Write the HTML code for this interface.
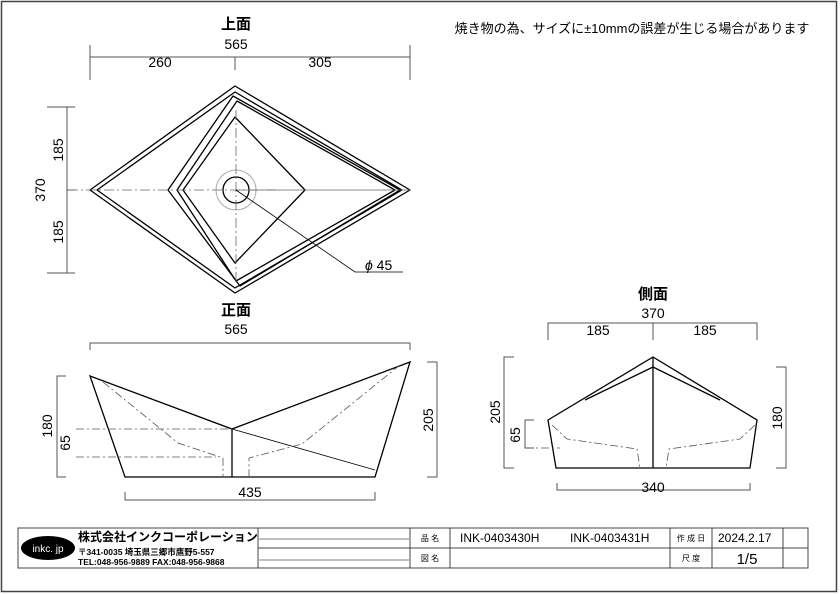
<!DOCTYPE html>
<html><head><meta charset="utf-8"><style>
html,body{margin:0;padding:0;background:#fff}
svg{display:block}
text{font-family:"Liberation Sans","Noto Sans CJK JP",sans-serif;fill:#000}
</style></head><body>
<svg width="840" height="594" viewBox="0 0 840 594" xmlns="http://www.w3.org/2000/svg">
<rect x="0" y="0" width="840" height="594" fill="#fff"/>
<rect x="1.5" y="1.5" width="835" height="590" fill="none" stroke="#444" stroke-width="1.5"/>
<text x="632" y="33" font-size="13" text-anchor="middle">焼き物の為、サイズに±10mmの誤差が生じる場合があります</text>

<!-- TOP VIEW -->
<text x="236" y="29" font-size="15" font-weight="bold" text-anchor="middle">上面</text>
<text x="236" y="49" font-size="14" text-anchor="middle">565</text>
<text x="160" y="67" font-size="14" text-anchor="middle">260</text>
<text x="320" y="67" font-size="14" text-anchor="middle">305</text>
<g stroke="#555" stroke-width="1" fill="none">
<line x1="90" y1="57" x2="410" y2="57"/>
<line x1="90" y1="45" x2="90" y2="80"/>
<line x1="235" y1="57" x2="235" y2="70"/>
<line x1="410" y1="45" x2="410" y2="80"/>
<line x1="67" y1="107" x2="67" y2="273"/>
<line x1="47" y1="107" x2="75" y2="107"/>
<line x1="47" y1="273" x2="75" y2="273"/>
<line x1="67" y1="190" x2="75" y2="190"/>
</g>
<text transform="translate(63,150) rotate(-90)" font-size="14" text-anchor="middle">185</text>
<text transform="translate(63,232) rotate(-90)" font-size="14" text-anchor="middle">185</text>
<text transform="translate(45,190) rotate(-90)" font-size="14" text-anchor="middle">370</text>
<g stroke="#000" stroke-width="1.3" fill="none" stroke-linejoin="round">
<path d="M235,86 L410,190 L235,293 L90,190 Z"/>
<path d="M235,92 L402,190 L235,288 L97,190 Z"/>
<path d="M233,96 L400,190 L240,286 L168,190 Z"/>
<path d="M237,101 L395,190 L236,281 L177,190 Z"/>
<path d="M235,117 L305,190 L235,263 L183,190 Z"/>
<circle cx="236" cy="190" r="13"/>
</g>
<circle cx="236" cy="190" r="20" fill="none" stroke="#aaa" stroke-width="1"/>
<g stroke="#666" stroke-width="0.8" stroke-dasharray="10,3,2,3" fill="none">
<line x1="68" y1="190" x2="280" y2="190"/>
<line x1="236" y1="110" x2="236" y2="285"/>
</g>
<line x1="236" y1="190" x2="410" y2="190" stroke="#666" stroke-width="0.8"/>
<polyline points="236,190 355,272 403,272" fill="none" stroke="#000" stroke-width="0.8"/>
<text x="365" y="270" font-size="14"><tspan font-style="italic">ϕ</tspan> 45</text>

<!-- FRONT VIEW -->
<text x="236" y="315" font-size="15" font-weight="bold" text-anchor="middle">正面</text>
<text x="236" y="334" font-size="14" text-anchor="middle">565</text>
<g stroke="#555" stroke-width="1" fill="none">
<polyline points="90,350 90,343 410,343 410,350"/>
<polyline points="66,376 57,376 57,477 66,477"/>
<polyline points="427,362 437,362 437,477 427,477"/>
<polyline points="125,492 125,500 375,500 375,492"/>
</g>
<text transform="translate(52,426) rotate(-90)" font-size="14" text-anchor="middle">180</text>
<text transform="translate(433,420) rotate(-90)" font-size="14" text-anchor="middle">205</text>
<text x="250" y="497" font-size="14" text-anchor="middle">435</text>
<text transform="translate(70,443) rotate(-90)" font-size="14" text-anchor="middle">65</text>
<g stroke="#000" stroke-width="1.3" fill="none">
<path d="M90,376 L232,429 L410,362 L375,477 L125,477 Z"/>
<line x1="232" y1="429" x2="232" y2="477"/>
</g>
<line x1="232" y1="429" x2="375" y2="470" stroke="#000" stroke-width="0.8"/>
<g stroke="#555" stroke-width="0.8" stroke-dasharray="8,3,2,3" fill="none">
<polyline points="76,429 232,429"/>
<polyline points="76,457 216,457"/>
<polyline points="103,382 178,443 223,458 223,477"/>
<polyline points="400,365 302,444 249,458 249,477"/>
</g>

<!-- SIDE VIEW -->
<text x="653" y="299" font-size="15" font-weight="bold" text-anchor="middle">側面</text>
<text x="653" y="318" font-size="14" text-anchor="middle">370</text>
<text x="598" y="335" font-size="14" text-anchor="middle">185</text>
<text x="705" y="335" font-size="14" text-anchor="middle">185</text>
<g stroke="#555" stroke-width="1" fill="none">
<polyline points="548,340 548,323 757,323 757,340"/>
<line x1="653" y1="323" x2="653" y2="340"/>
<polyline points="514,357 504,357 504,468 514,468"/>
<polyline points="776,367 786,367 786,468 776,468"/>
<polyline points="557,483 557,490 750,490 750,483"/>
<polyline points="534,420 525,420 525,448 534,448"/>
</g>
<text transform="translate(500,412) rotate(-90)" font-size="14" text-anchor="middle">205</text>
<text transform="translate(782,418) rotate(-90)" font-size="14" text-anchor="middle">180</text>
<text transform="translate(520,435) rotate(-90)" font-size="14" text-anchor="middle">65</text>
<text x="653" y="492" font-size="14" text-anchor="middle">340</text>
<g stroke="#000" stroke-width="1.3" fill="none">
<path d="M548,420 L653,357 L757,420 L750,468 L556,468 Z"/>
<line x1="653" y1="357" x2="653" y2="468"/>
<polyline points="585,400 653,367 720,400"/>
</g>
<g stroke="#555" stroke-width="0.8" stroke-dasharray="8,3,2,3" fill="none">
<polyline points="552,425 567,439 637,449 640,468"/>
<polyline points="755,425 740,439 669,449 666,468"/>
<line x1="525" y1="448" x2="560" y2="448"/>
</g>

<!-- TITLE BLOCK -->
<g stroke="#444" stroke-width="1" fill="none">
<rect x="18" y="528" width="790" height="40"/>
<line x1="258" y1="528" x2="258" y2="568"/>
<line x1="410" y1="528" x2="410" y2="568"/>
<line x1="450" y1="528" x2="450" y2="568"/>
<line x1="670" y1="528" x2="670" y2="568"/>
<line x1="712" y1="528" x2="712" y2="568"/>
<line x1="783" y1="528" x2="783" y2="568"/>
<line x1="258" y1="548" x2="808" y2="548"/>
</g>
<g stroke="#aaa" stroke-width="1.5">
<line x1="258" y1="539" x2="410" y2="539"/>
<line x1="258" y1="560" x2="410" y2="560"/>
</g>
<ellipse cx="48" cy="548" rx="27" ry="12" fill="#000"/>
<text x="48" y="552" font-size="10" text-anchor="middle" style="fill:#fff">inkc. jp</text>
<text x="78" y="541" font-size="12" font-weight="bold">株式会社インクコーポレーション</text>
<text x="78" y="555" font-size="8.5" font-weight="bold">〒341-0035 埼玉県三郷市鷹野5-557</text>
<text x="78" y="565" font-size="8.5" font-weight="bold">TEL:048-956-9889  FAX:048-956-9868</text>
<text x="430" y="541" font-size="8" text-anchor="middle">品 名</text>
<text x="430" y="561" font-size="8" text-anchor="middle">図 名</text>
<text x="460" y="542" font-size="12">INK-0403430H</text>
<text x="570" y="542" font-size="12">INK-0403431H</text>
<text x="691" y="541" font-size="8" text-anchor="middle">作 成 日</text>
<text x="691" y="561" font-size="8" text-anchor="middle">尺 度</text>
<text x="718" y="542" font-size="12">2024.2.17</text>
<text x="747" y="564" font-size="15" text-anchor="middle">1/5</text>
</svg>
</body></html>
